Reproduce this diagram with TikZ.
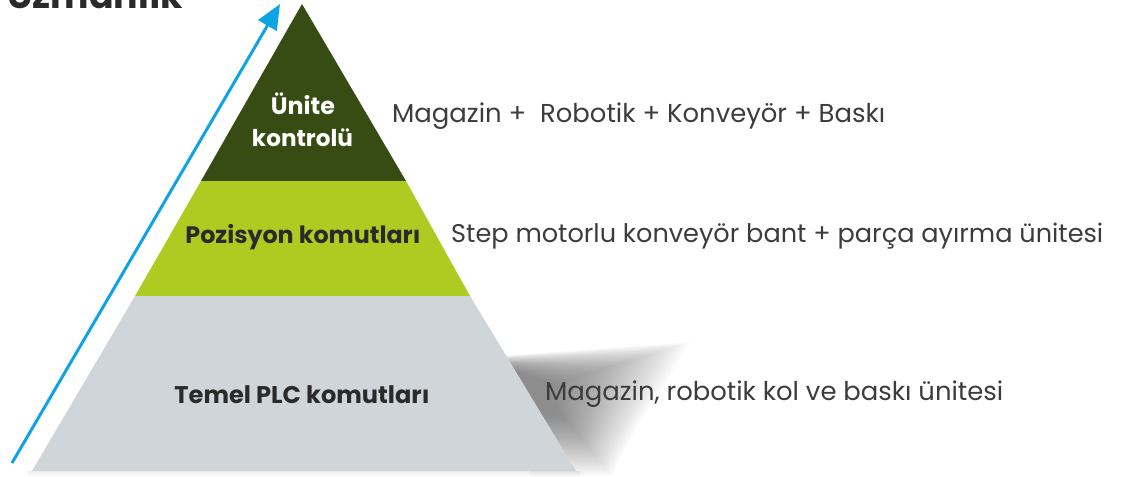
\documentclass[tikz,border=0pt]{standalone}
\usepackage{fontspec}
\setmainfont{Poppins}
\usetikzlibrary{arrows.meta}

\definecolor{tierDark}{HTML}{364C12}
\definecolor{tierLime}{HTML}{AFCB21}
\definecolor{tierGrey}{HTML}{D0D5D9}
\definecolor{labelInk}{HTML}{2A2A2A}
\definecolor{noteInk}{HTML}{3C3C3C}
\definecolor{arrowBlue}{HTML}{0FA3E3}

% set a text at a fixed width
\newcommand{\atwidth}[2]{\resizebox{#1}{!}{#2}}

\tikzset{
  tierlabel/.style={inner sep=0pt, anchor=base, font=\bfseries, text=labelInk},
  toplabel/.style={inner sep=0pt, anchor=base, font=\bfseries, text=white},
  note/.style={inner sep=0pt, anchor=base west, text=noteInk},
  rise/.style={draw=arrowBlue, line width=3bp, -{Triangle[length=25bp,width=21bp]}},
}

\begin{document}
\begin{tikzpicture}[x=1bp,y=-1bp]
\useasboundingbox (0,0) rectangle (1132,477);
\clip (0,0) rectangle (1132,477);

% soft shadow to the right of the base tier: stacked translucent layers
% that shrink towards the upper part of the slanted edge
\foreach \i in {0,...,29}{
  \pgfmathsetmacro{\t}{\i/29}
  \fill[black, opacity=0.02]
    (500,{356+10*\t}) -- ({690-135*\t},{342+42*\t})
    .. controls ({665-115*\t},{385+12*\t}) and ({632-70*\t},{430-12*\t}) .. ({612-50*\t},{476-60*\t})
    -- (530,{476-60*\t}) -- cycle;
}
% faint shadow under the base
\foreach \j in {1,...,6}{
  \fill[black, opacity=0.012] (28,471) rectangle (580,{471+\j});
}

% pyramid corners
\coordinate (apex) at (302,4);
\coordinate (tl1) at (201,181);  \coordinate (tr1) at (406,181);
\coordinate (tl2) at (135,296);  \coordinate (tr2) at (470,296);
\coordinate (bl)  at (32,471);   \coordinate (br)  at (576,471);

\fill[tierGrey] (tl2) -- (tr2) -- (br) -- (bl) -- cycle;
\fill[tierLime] (tl1) -- (tr1) -- (tr2) -- (tl2) -- cycle;
\fill[tierDark] (apex) -- (tr1) -- (tl1) -- cycle;

% rising arrow
\coordinate (riseFrom) at (12,463);
\coordinate (riseTo) at (280,4);
\draw[rise] (riseFrom) -- (riseTo);

% heading, cut by the top edge
\node[inner sep=0pt, anchor=base west, font=\bfseries, text=labelInk] (heading)
  at (7,9) {\atwidth{176bp}{Uzmanlık}};

% tier labels
\node[toplabel] (unitA) at (303,115) {\atwidth{64bp}{Ünite}};
\node[toplabel] (unitB) at (302.5,147) {\atwidth{101bp}{kontrolü}};
\node[tierlabel] (posLabel) at (303,244) {\atwidth{235bp}{Pozisyon komutları}};
\node[tierlabel] (baseLabel) at (302,403) {\atwidth{255bp}{Temel PLC komutları}};

% notes beside the tiers
\node[note] (noteTop) at (392,123) {\atwidth{493bp}{Magazin +\ \ Robotik + Konveyör + Baskı}};
\node[note] (noteMid) at (451,243) {\atwidth{652bp}{Step motorlu konveyör bant + parça ayırma ünitesi}};
\node[note] (noteBase) at (545,400) {\atwidth{458bp}{Magazin, robotik kol ve baskı ünitesi}};
\end{tikzpicture}
\end{document}
